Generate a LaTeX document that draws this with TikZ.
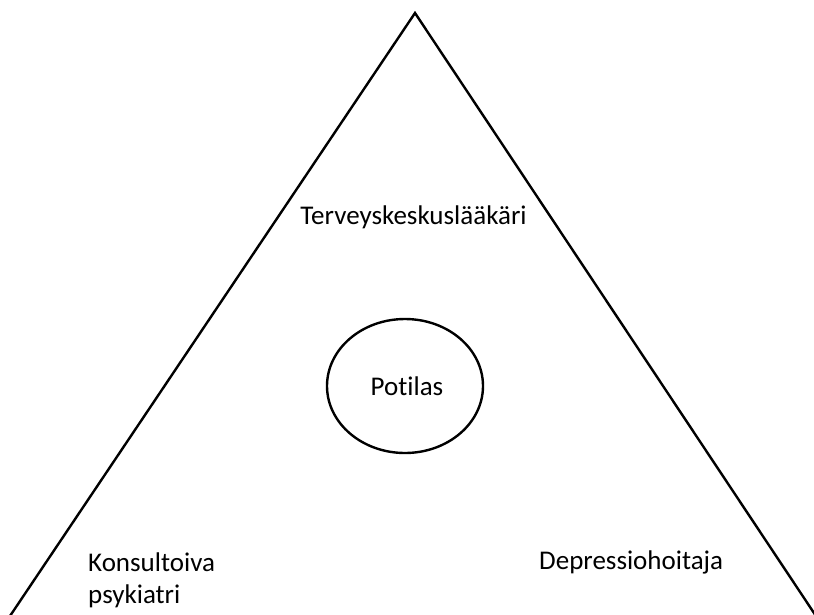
\documentclass[tikz,border=0pt]{standalone}
\usepackage{fontspec}
\setmainfont{Carlito}[Ligatures=CommonOff]
\usetikzlibrary{shapes.geometric}
\begin{document}
\begin{tikzpicture}[x=1pt,y=-1pt,
  lbl/.style={font=\fontsize{27}{32}\selectfont, inner sep=0pt},
  edge/.style={line width=2.4pt, line join=miter}]
\useasboundingbox (0,0) rectangle (814,614);
\coordinate (apex) at (415,13);
\coordinate (bl) at (10,616);
\coordinate (br) at (816,616);
\draw[edge] (bl) -- (apex) -- (br);
\node[draw, ellipse, line width=2.4pt, minimum width=156pt, minimum height=134pt, inner sep=0pt] (pat) at (405,386) {};
\node[lbl, anchor=base] (potilas) at (407,395) {Potilas};
\node[lbl, anchor=base] (tk) at (413.5,224) {Terveyskeskuslääkäri};
\node[lbl, anchor=base west] (kp) at (88,571) {Konsultoiva};
\node[lbl, anchor=base west] (kp2) at (88,603) {psykiatri};
\node[lbl, anchor=base west] (dh) at (539,569) {Depressiohoitaja};
\end{tikzpicture}
\end{document}
